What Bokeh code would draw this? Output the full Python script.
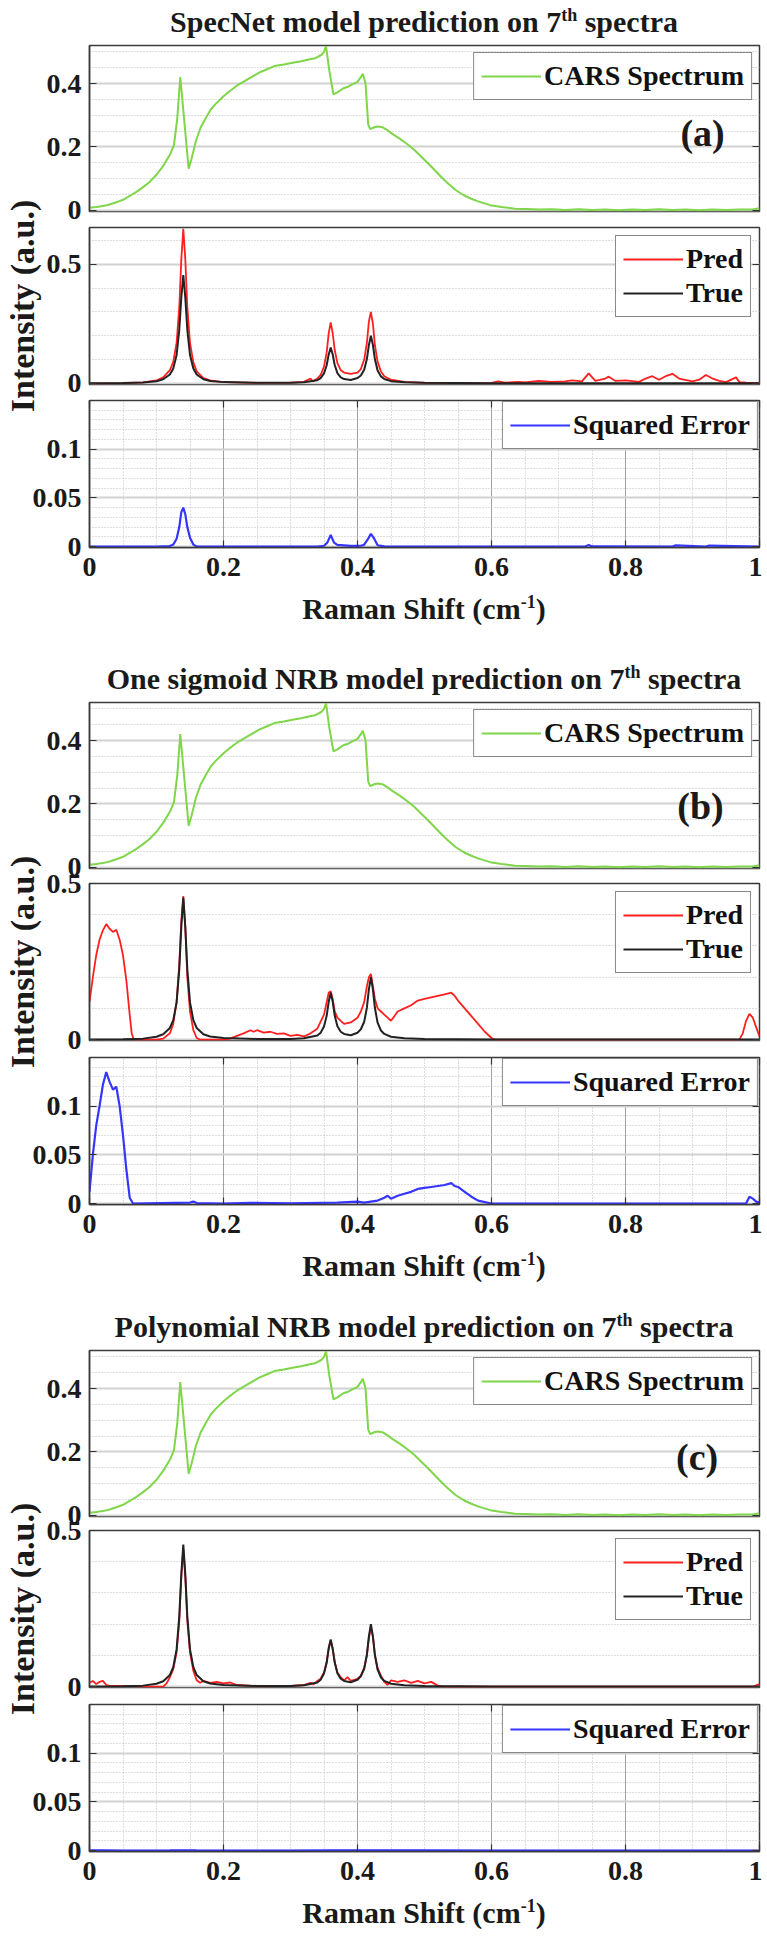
from bokeh.plotting import figure
from bokeh.models import FixedTicker, CustomJSTickFormatter, Label, Range1d, Div, LinearAxis
from bokeh.layouts import column
from bokeh.embed import file_html
from bokeh.resources import INLINE

# ---------------- data ----------------
cars_x = [0.0, 0.01, 0.02, 0.03, 0.04, 0.05, 0.06, 0.07, 0.08, 0.09,
          0.10, 0.11, 0.12, 0.126, 0.131, 0.1355, 0.14, 0.145, 0.148, 0.152,
          0.159, 0.166, 0.174, 0.181, 0.188, 0.2, 0.21, 0.22, 0.232, 0.243,
          0.254, 0.265, 0.276, 0.29, 0.305, 0.316, 0.327, 0.337, 0.346, 0.35,
          0.353, 0.358, 0.364, 0.37, 0.379, 0.386, 0.393, 0.4, 0.405, 0.408,
          0.412, 0.416, 0.419, 0.425, 0.43, 0.437, 0.445, 0.452, 0.463, 0.474,
          0.485, 0.496, 0.51, 0.525, 0.536, 0.547, 0.558, 0.569, 0.58, 0.598,
          0.615, 0.635, 0.65, 0.672, 0.69, 0.71, 0.73, 0.75, 0.77, 0.79,
          0.81, 0.83, 0.85, 0.87, 0.89, 0.91, 0.93, 0.95, 0.97, 0.99, 1.0]
cars_y = [0.008, 0.01, 0.013, 0.018, 0.025, 0.033, 0.045, 0.058, 0.073, 0.09,
          0.112, 0.14, 0.175, 0.205, 0.29, 0.42, 0.316, 0.2, 0.131, 0.16,
          0.22, 0.262, 0.293, 0.318, 0.335, 0.36, 0.377, 0.393, 0.408, 0.422,
          0.435, 0.445, 0.455, 0.46, 0.466, 0.47, 0.476, 0.48, 0.49, 0.5,
          0.518, 0.44, 0.366, 0.372, 0.385, 0.39, 0.398, 0.405, 0.42, 0.431,
          0.4, 0.27, 0.256, 0.262, 0.264, 0.262, 0.252, 0.241, 0.226, 0.209,
          0.19, 0.167, 0.138, 0.105, 0.083, 0.063, 0.048, 0.037, 0.028, 0.016,
          0.01, 0.005, 0.004, 0.002, 0.003, 0.001, 0.003, 0.001, 0.002, 0.0,
          0.002, 0.001, 0.003, 0.001, 0.002, 0.0, 0.002, 0.001, 0.002, 0.002, 0.006]

true_x = [0.0, 0.05, 0.08, 0.10, 0.11, 0.12, 0.125, 0.13, 0.134, 0.137,
          0.14, 0.143, 0.146, 0.15, 0.155, 0.16, 0.17, 0.18, 0.2, 0.25,
          0.3, 0.32, 0.34, 0.345, 0.35, 0.354, 0.357, 0.36, 0.363, 0.366,
          0.37, 0.375, 0.38, 0.39, 0.4, 0.405, 0.41, 0.414, 0.417, 0.42,
          0.423, 0.426, 0.43, 0.435, 0.44, 0.45, 0.47, 0.5, 0.6, 0.8, 1.0]
true_y = [0.0, 0.001, 0.003, 0.009, 0.017, 0.037, 0.062, 0.119, 0.225, 0.36,
          0.455, 0.36, 0.225, 0.119, 0.062, 0.037, 0.017, 0.01, 0.005, 0.002,
          0.002, 0.004, 0.013, 0.022, 0.042, 0.076, 0.121, 0.15, 0.121, 0.077,
          0.043, 0.025, 0.018, 0.014, 0.022, 0.033, 0.057, 0.102, 0.161, 0.2,
          0.161, 0.101, 0.054, 0.029, 0.018, 0.009, 0.004, 0.002, 0.0, 0.0, 0.0]

pred_a_x = [0.0, 0.05, 0.08, 0.10, 0.11, 0.12, 0.125, 0.13, 0.134, 0.137,
            0.14, 0.143, 0.146, 0.15, 0.155, 0.16, 0.17, 0.18, 0.2, 0.25,
            0.3, 0.32, 0.33, 0.333, 0.34, 0.345, 0.35, 0.354, 0.357, 0.36,
            0.363, 0.366, 0.37, 0.375, 0.38, 0.39, 0.4, 0.405, 0.41, 0.414,
            0.417, 0.42, 0.423, 0.426, 0.43, 0.435, 0.44, 0.45, 0.47, 0.5,
            0.55, 0.6, 0.61, 0.62, 0.64, 0.65, 0.67, 0.69, 0.71, 0.72,
            0.735, 0.745, 0.755, 0.77, 0.775, 0.785, 0.8, 0.82, 0.83, 0.84,
            0.85, 0.86, 0.87, 0.88, 0.9, 0.91, 0.92, 0.93, 0.94, 0.95,
            0.965, 0.97, 0.98, 1.0]
pred_a_y = [0.0, 0.001, 0.004, 0.012, 0.025, 0.055, 0.09, 0.17, 0.32, 0.52,
            0.65, 0.52, 0.32, 0.17, 0.088, 0.05, 0.022, 0.012, 0.005, 0.002,
            0.003, 0.006, 0.02, 0.008, 0.02, 0.035, 0.07, 0.13, 0.21, 0.256,
            0.21, 0.14, 0.085, 0.055, 0.045, 0.04, 0.045, 0.06, 0.1, 0.17,
            0.26, 0.3, 0.25, 0.16, 0.09, 0.05, 0.03, 0.015, 0.006, 0.002,
            0.001, 0.002, 0.008, 0.003, 0.006, 0.004, 0.01, 0.006, 0.008, 0.012,
            0.008, 0.042, 0.01, 0.02, 0.028, 0.01, 0.012, 0.006, 0.02, 0.03,
            0.015, 0.03, 0.04, 0.02, 0.008, 0.015, 0.035, 0.02, 0.01, 0.005,
            0.025, 0.005, 0.003, 0.002]

se_a_x = [0.0, 0.1, 0.12, 0.125, 0.13, 0.134, 0.137, 0.14, 0.143, 0.146,
          0.15, 0.155, 0.16, 0.2, 0.34, 0.35, 0.355, 0.36, 0.365, 0.37,
          0.39, 0.405, 0.41, 0.415, 0.42, 0.425, 0.43, 0.44, 0.5, 0.74,
          0.745, 0.75, 0.87, 0.875, 0.92, 0.925, 1.0]
se_a_y = [0.0, 0.0, 0.0005, 0.002, 0.008, 0.02, 0.035, 0.04, 0.033, 0.02,
          0.009, 0.002, 0.0, 0.0, 0.0, 0.0008, 0.004, 0.012, 0.004, 0.0017,
          0.0007, 0.0008, 0.0019, 0.007, 0.013, 0.008, 0.0013, 0.0001, 0.0, 0.0,
          0.0015, 0.0001, 0.0, 0.0012, 0.0, 0.001, 0.0]

pred_b_x = [0.0, 0.005, 0.01, 0.015, 0.02, 0.025, 0.03, 0.035, 0.04, 0.045,
            0.05, 0.055, 0.06, 0.063, 0.066, 0.1, 0.11, 0.12, 0.125, 0.13,
            0.134, 0.137, 0.14, 0.143, 0.146, 0.15, 0.155, 0.16, 0.165, 0.2,
            0.21, 0.22, 0.23, 0.24, 0.245, 0.25, 0.26, 0.27, 0.28, 0.29,
            0.3, 0.31, 0.32, 0.33, 0.34, 0.35, 0.354, 0.357, 0.36, 0.363,
            0.366, 0.37, 0.375, 0.38, 0.39, 0.4, 0.405, 0.41, 0.414, 0.417,
            0.42, 0.423, 0.426, 0.43, 0.435, 0.44, 0.445, 0.45, 0.455, 0.46,
            0.47, 0.48, 0.49, 0.5, 0.51, 0.52, 0.53, 0.54, 0.545, 0.55,
            0.56, 0.57, 0.58, 0.59, 0.6, 0.605, 0.97, 0.975, 0.98, 0.985,
            0.99, 0.995, 1.0]
pred_b_y = [0.12, 0.2, 0.27, 0.32, 0.35, 0.37, 0.355, 0.345, 0.352, 0.32,
            0.27, 0.19, 0.08, 0.02, 0.0, 0.0, 0.003, 0.02, 0.05, 0.12,
            0.24, 0.38, 0.46, 0.36, 0.2, 0.09, 0.03, 0.005, 0.0, 0.0,
            0.003, 0.012, 0.02, 0.03, 0.025, 0.03, 0.022, 0.025, 0.018, 0.02,
            0.012, 0.015, 0.01, 0.02, 0.035, 0.08, 0.12, 0.15, 0.155, 0.13,
            0.09, 0.07, 0.06, 0.05, 0.055, 0.07, 0.09, 0.12, 0.17, 0.2,
            0.21, 0.17, 0.13, 0.1, 0.09, 0.08, 0.07, 0.06, 0.075, 0.09,
            0.1, 0.11, 0.125, 0.13, 0.135, 0.14, 0.145, 0.15, 0.14, 0.125,
            0.1, 0.075, 0.05, 0.025, 0.005, 0.0, 0.0, 0.02, 0.06, 0.082,
            0.07, 0.04, 0.01]

se_b_x = [0.0, 0.005, 0.01, 0.015, 0.02, 0.025, 0.03, 0.035, 0.04, 0.045,
          0.05, 0.055, 0.06, 0.065, 0.15, 0.155, 0.16, 0.2, 0.24, 0.3,
          0.37, 0.4, 0.41, 0.43, 0.44, 0.445, 0.45, 0.46, 0.47, 0.48,
          0.49, 0.5, 0.51, 0.52, 0.53, 0.54, 0.545, 0.55, 0.56, 0.57,
          0.58, 0.6, 0.98, 0.985, 0.99, 0.995, 1.0]
se_b_y = [0.012, 0.05, 0.08, 0.1, 0.122, 0.135, 0.125, 0.117, 0.12, 0.1,
          0.07, 0.035, 0.006, 0.0, 0.001, 0.002, 0.0005, 0.0, 0.0008, 0.0003,
          0.001, 0.002, 0.001, 0.003, 0.006, 0.008, 0.005, 0.008, 0.01, 0.012,
          0.015, 0.016, 0.017, 0.018, 0.019, 0.021, 0.018, 0.017, 0.012, 0.007,
          0.003, 0.0, 0.0, 0.007, 0.005, 0.002, 0.001]

pred_c_x = [0.0, 0.005, 0.01, 0.015, 0.02, 0.025, 0.03, 0.05, 0.08, 0.11,
            0.115, 0.12, 0.125, 0.13, 0.134, 0.137, 0.14, 0.143, 0.146, 0.15,
            0.155, 0.16, 0.165, 0.17, 0.18, 0.19, 0.2, 0.21, 0.22, 0.25,
            0.3, 0.32, 0.33, 0.335, 0.34, 0.345, 0.35, 0.354, 0.357, 0.36,
            0.363, 0.366, 0.37, 0.375, 0.38, 0.385, 0.39, 0.4, 0.405, 0.41,
            0.414, 0.417, 0.42, 0.423, 0.426, 0.43, 0.435, 0.44, 0.445, 0.45,
            0.46, 0.47, 0.48, 0.49, 0.5, 0.51, 0.52, 0.53, 0.99, 1.0]
pred_c_y = [0.012, 0.018, 0.008, 0.015, 0.018, 0.005, 0.002, 0.002, 0.0, 0.0,
            0.01, 0.03, 0.055, 0.11, 0.21, 0.35, 0.44, 0.35, 0.21, 0.11,
            0.05, 0.02, 0.012, 0.018, 0.012, 0.015, 0.01, 0.013, 0.005, 0.001,
            0.002, 0.005, 0.012, 0.008, 0.018, 0.025, 0.045, 0.08, 0.125, 0.15,
            0.12, 0.08, 0.045, 0.03, 0.02, 0.03, 0.018, 0.025, 0.035, 0.06,
            0.1, 0.155, 0.19, 0.16, 0.1, 0.06, 0.035, 0.015, 0.005, 0.02,
            0.015, 0.02, 0.012, 0.018, 0.01, 0.015, 0.003, 0.0, 0.0, 0.008]

se_c_x = [0.0, 0.02, 0.05, 0.12, 0.14, 0.16, 0.3, 0.36, 0.42, 0.5, 0.6, 1.0]
se_c_y = [0.0002, 0.0003, 0.0, 0.0001, 0.0003, 0.0001, 0.0, 0.0001, 0.0002, 0.0001, 0.0, 0.0]

x_ticks = [0, 0.2, 0.4, 0.6, 0.8, 1]
x_minor = [0.05, 0.1, 0.15, 0.25, 0.3, 0.35, 0.45, 0.5, 0.55, 0.65, 0.7, 0.75, 0.85, 0.9, 0.95]
cars_ticks = [0, 0.2, 0.4]
cars_minor = [0.05, 0.1, 0.15, 0.25, 0.3, 0.35, 0.45, 0.5]
pt_ticks = [0, 0.5]
pt_minor = [0.1, 0.2, 0.3, 0.4, 0.6]
se_ticks = [0, 0.05, 0.1]
se_minor = [0.01, 0.02, 0.03, 0.04, 0.06, 0.07, 0.08, 0.09, 0.11, 0.12, 0.13, 0.14]

titles = ["SpecNet model prediction on 7",
          "One sigmoid NRB model prediction on 7",
          "Polynomial NRB model prediction on 7"]
tags = ["(a)", "(b)", "(c)"]

# ---------------- styling / layout ----------------
FONT = "Liberation Serif"
INK = "#1a1a1a"
C_CARS = "#7fd64a"
C_PRED = "#ff1f1f"
C_TRUE = "#222222"
C_SE = "#3535ff"
FW, LB, RB = 670, 89, 3
TOTAL_W = FW + LB + RB
FMT = "return String(Math.round(tick*1000)/1000);"
BLANK = "return '';"


def mirror_axis(p, ticker, side):
    a = LinearAxis(ticker=ticker, formatter=CustomJSTickFormatter(code=BLANK),
                   major_label_text_font_size="1px", major_label_standoff=0,
                   major_tick_in=7, major_tick_out=0, minor_tick_in=0, minor_tick_out=0,
                   axis_line_color=None, major_tick_line_color="#333333",
                   major_tick_line_width=1.2)
    p.add_layout(a, side)


def make_fig(frame_h, top_b, bot_b, yr, yt, ym, show_x):
    p = figure(frame_width=FW, frame_height=frame_h, min_border_left=LB, min_border_right=RB,
               min_border_top=top_b, min_border_bottom=bot_b,
               x_range=Range1d(0, 1), y_range=Range1d(*yr),
               output_backend="svg", toolbar_location=None,
               background_fill_color="white", border_fill_alpha=0.0,
               outline_line_color="#3a3a3a", outline_line_width=1.5)
    ax = p.yaxis[0]
    ax.ticker = FixedTicker(ticks=yt, minor_ticks=ym)
    ax.formatter = CustomJSTickFormatter(code=FMT)
    ax.major_label_text_font = FONT
    ax.major_label_text_font_style = "bold"
    ax.major_label_text_font_size = "28px"
    ax.major_label_text_color = INK
    ax.major_label_standoff = 8
    ax.major_tick_in = 7
    ax.major_tick_out = 0
    ax.minor_tick_in = 0
    ax.minor_tick_out = 0
    ax.major_tick_line_color = "#333333"
    ax.major_tick_line_width = 1.2
    ax.axis_line_color = "#3a3a3a"
    ax.axis_line_width = 1.5
    g = p.ygrid[0]
    g.ticker = ax.ticker
    g.grid_line_color = "#d2d2d2"
    g.grid_line_width = 2
    g.minor_grid_line_color = "#bdbdbd"
    g.minor_grid_line_width = 1
    g.minor_grid_line_dash = "1 2"
    mirror_axis(p, ax.ticker, "right")
    xa = p.xaxis[0]
    gx = p.xgrid[0]
    if show_x:
        xa.ticker = FixedTicker(ticks=x_ticks, minor_ticks=x_minor)
        xa.formatter = CustomJSTickFormatter(code=FMT)
        xa.major_label_text_font = FONT
        xa.major_label_text_font_style = "bold"
        xa.major_label_text_font_size = "28px"
        xa.major_label_text_color = INK
        xa.major_label_standoff = 10
        xa.major_tick_in = 7
        xa.major_tick_out = 0
        xa.minor_tick_in = 0
        xa.minor_tick_out = 0
        xa.major_tick_line_color = "#333333"
        xa.major_tick_line_width = 1.2
        xa.axis_line_color = "#3a3a3a"
        xa.axis_line_width = 1.5
        gx.ticker = xa.ticker
        gx.grid_line_color = "#a0a0a0"
        gx.grid_line_width = 1
        gx.minor_grid_line_color = "#bdbdbd"
        gx.minor_grid_line_width = 1
        gx.minor_grid_line_dash = "1 2"
        mirror_axis(p, xa.ticker, "above")
    else:
        xa.visible = False
        gx.visible = False
    return p


def style_legend(p, margin):
    lg = p.legend[0]
    lg.location = "top_right"
    lg.margin = margin
    lg.label_text_font = FONT
    lg.label_text_font_style = "bold"
    lg.label_text_font_size = "28px"
    lg.label_text_color = "#111111"
    lg.border_line_color = "#111111"
    lg.border_line_width = 1.5
    lg.background_fill_color = "white"
    lg.background_fill_alpha = 1.0
    lg.glyph_width = 60
    lg.glyph_height = 24
    lg.label_standoff = 3
    lg.padding = 7
    lg.spacing = 2
    lg.label_height = 26


TXT_STYLE = ("font-family:'Liberation Serif',serif;font-weight:bold;font-size:30px;"
             "line-height:34px;color:%s;white-space:nowrap;text-align:center;"
             "width:%dpx;margin-left:%dpx;" % (INK, FW, LB))
SUP = "<span style='font-size:18px;position:relative;top:-11px;'>%s</span>"


def text_div(html):
    return Div(text="<div style=\"%s\">%s</div>" % (TXT_STYLE, html),
               width=TOTAL_W, height=34)


panels = [
    dict(frames=[(45, 166), (227, 157), (400, 147)], pt_range=(-0.005, 0.655),
         pred=(pred_a_x, pred_a_y), se=(se_a_x, se_a_y), tag_xy=(0.915, 0.244)),
    dict(frames=[(702, 166), (883, 157), (1057, 147)], pt_range=(-0.003, 0.5),
         pred=(pred_b_x, pred_b_y), se=(se_b_x, se_b_y), tag_xy=(0.912, 0.194)),
    dict(frames=[(1350, 166), (1530, 157), (1704, 147)], pt_range=(-0.003, 0.5),
         pred=(pred_c_x, pred_c_y), se=(se_c_x, se_c_y), tag_xy=(0.907, 0.185)),
]

items = []  # (model, page_top, height)
for i, pan in enumerate(panels):
    (t1, h1), (t2, h2), (t3, h3) = pan["frames"]

    # title (with superscript "th")
    items.append((text_div(titles[i] + SUP % "th" + " spectra"), t1 - 40, 34))

    # --- CARS spectrum ---
    p1 = make_fig(h1, 8, 30, (-0.004, 0.52), cars_ticks, cars_minor, False)
    p1.line(cars_x, cars_y, line_color=C_CARS, line_width=2, legend_label="CARS Spectrum")
    style_legend(p1, 7)
    tx, ty = pan["tag_xy"]
    p1.add_layout(Label(x=tx, y=ty, text=tags[i], text_align="center", text_baseline="middle",
                        text_font=FONT, text_font_style="bold", text_font_size="38px",
                        text_color=INK))
    items.append((p1, t1 - 8, 8 + h1 + 30))

    # --- Pred / True ---
    p2 = make_fig(h2, 30, 30, pan["pt_range"], pt_ticks, pt_minor, False)
    px, py = pan["pred"]
    p2.line(px, py, line_color=C_PRED, line_width=1.8, legend_label="Pred")
    p2.line(true_x, true_y, line_color=C_TRUE, line_width=2, legend_label="True")
    style_legend(p2, 8)
    ax = p2.yaxis[0]
    ax.axis_label = "Intensity (a.u.)"
    ax.axis_label_text_font = FONT
    ax.axis_label_text_font_style = "bold"
    ax.axis_label_text_font_size = "34px"
    ax.axis_label_text_color = INK
    ax.axis_label_standoff = 3
    items.append((p2, t2 - 30, 30 + h2 + 30))

    # --- Squared error ---
    p3 = make_fig(h3, 30, 45, (-0.001, 0.15), se_ticks, se_minor, True)
    sx, sy = pan["se"]
    p3.line(sx, sy, line_color=C_SE, line_width=2.2, legend_label="Squared Error")
    style_legend(p3, 1)
    items.append((p3, t3 - 30, 30 + h3 + 45))

    # x-axis label with superscript
    items.append((text_div("Raman Shift (cm" + SUP % "-1" + ")"), t3 + h3 + 45, 34))

prev_bottom = 0
models = []
for mdl, top, h in items:
    mdl.margin = (top - prev_bottom, 0, 0, 0)
    prev_bottom = top + h
    models.append(mdl)

layout = column(*models, spacing=0)
open("out.html", "w").write(file_html(layout, INLINE, title="NRB model predictions"))
